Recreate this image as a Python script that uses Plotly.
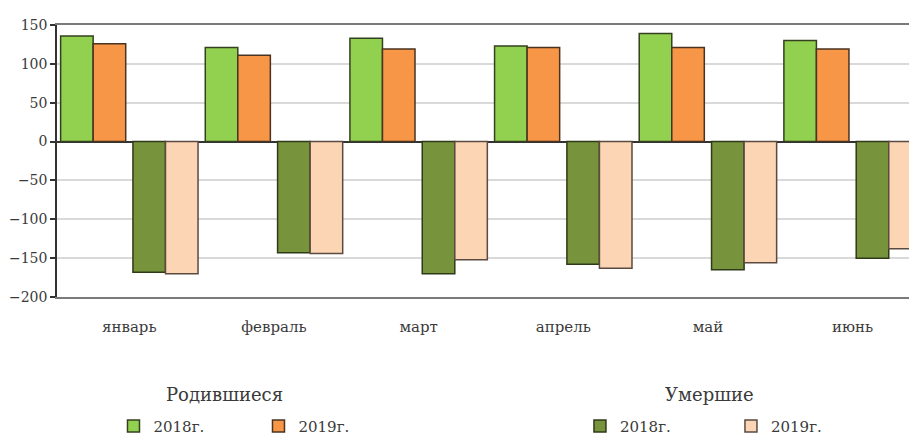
import plotly.graph_objects as go
import numpy as np

months = ["январь", "февраль", "март", "апрель", "май", "июнь"]
births_2018 = [136, 121, 133, 123, 139, 130]
births_2019 = [126, 111, 119, 121, 121, 119]
deaths_2018 = [-168, -143, -170, -158, -165, -150]
deaths_2019 = [-170, -144, -152, -163, -156, -138]
y_ticks = [150, 100, 50, 0, -50, -100, -150, -200]
group_titles = ["Родившиеся", "Умершие"]

idx = np.arange(len(months))
birth_slot = 2 * idx + 0.5
death_slot = 2 * idx + 1.5
label_pos = 2 * idx + 1
boundaries = np.arange(0, 2 * len(months) + 1)

FONT = "DejaVu Serif"
TXT = "#3a3a3a"
W = 0.45
xr = [0, 11.78]

fig = go.Figure()
fig.add_trace(go.Bar(x=birth_slot, y=births_2018, width=W, offset=-W, name="2018г.",
                     marker=dict(color="#92D050", line=dict(color="#34401f", width=1.5)),
                     legend="legend"))
fig.add_trace(go.Bar(x=birth_slot, y=births_2019, width=W, offset=0, name="2019г.",
                     marker=dict(color="#F79646", line=dict(color="#4a3320", width=1.5)),
                     legend="legend"))
fig.add_trace(go.Bar(x=death_slot, y=deaths_2018, width=W, offset=-W, name="2018г.",
                     marker=dict(color="#77933C", line=dict(color="#2f3a18", width=1.5)),
                     legend="legend2"))
fig.add_trace(go.Bar(x=death_slot, y=deaths_2019, width=W, offset=0, name="2019г.",
                     marker=dict(color="#FCD5B5", line=dict(color="#5a4a40", width=1.5)),
                     legend="legend2"))

fig.update_layout(
    width=909, height=436,
    margin=dict(l=57, r=0, t=25, b=139, autoexpand=False),
    plot_bgcolor="white", paper_bgcolor="white",
    barmode="overlay",
    template="none",
    font=dict(family=FONT, size=14, color=TXT),
    xaxis=dict(range=xr, tickvals=label_pos, ticktext=months, ticks="",
               showgrid=False, zeroline=False, showline=True, linecolor="#7a7a7a",
               linewidth=2, mirror=True, tickfont=dict(family=FONT, size=15),
               ticklabelstandoff=15),
    xaxis2=dict(overlaying="x", anchor="free", position=(0 - (-200)) / 350, range=xr,
                tickvals=boundaries, ticks="outside", ticklen=5, tickwidth=1.5,
                tickcolor="#333", showticklabels=False, showgrid=False,
                zeroline=False, showline=False),
    yaxis=dict(range=[-200, 150], tickvals=y_ticks, ticks="outside", ticklen=5,
               tickwidth=1.5, tickcolor="#333", showline=True, linecolor="#333",
               linewidth=1.5, showgrid=True, gridcolor="#d9d9d9", gridwidth=1.5,
               zeroline=True, zerolinecolor="#333", zerolinewidth=1.5,
               tickfont=dict(family=FONT, size=14)),
    legend=dict(orientation="h", x=0.0663, y=-0.475, xanchor="left", yanchor="middle",
                font=dict(family=FONT, size=15), entrywidth=100, entrywidthmode="pixels",
                bgcolor="rgba(0,0,0,0)"),
    legend2=dict(orientation="h", x=0.6138, y=-0.475, xanchor="left", yanchor="middle",
                 font=dict(family=FONT, size=15), entrywidth=106, entrywidthmode="pixels",
                 bgcolor="rgba(0,0,0,0)"),
    annotations=[
        dict(text=group_titles[0], x=(224 - 57) / 852, y=(297 - 394) / 272,
             xref="paper", yref="paper", showarrow=False, xanchor="center",
             yanchor="middle", font=dict(family=FONT, size=18, color=TXT)),
        dict(text=group_titles[1], x=(709 - 57) / 852, y=(297 - 394) / 272,
             xref="paper", yref="paper", showarrow=False, xanchor="center",
             yanchor="middle", font=dict(family=FONT, size=18, color=TXT)),
    ],
)

fig.write_html("out.html")
